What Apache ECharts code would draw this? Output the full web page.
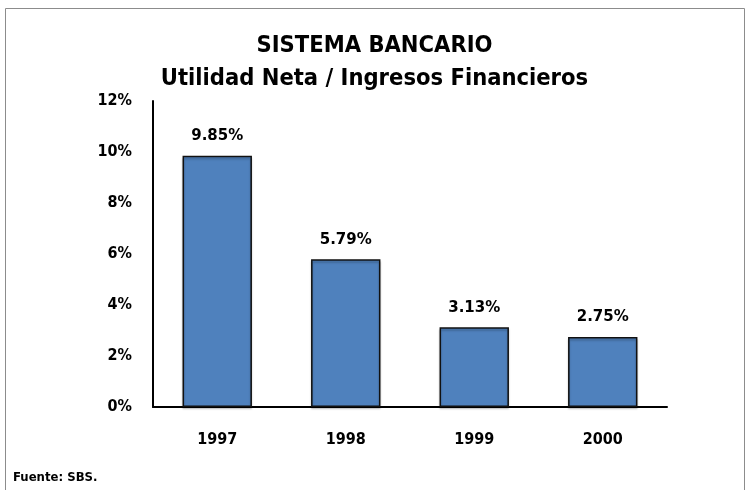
<!DOCTYPE html>
<html>
<head>
<meta charset="utf-8">
<script src="https://cdn.jsdelivr.net/npm/echarts@6/dist/echarts.min.js"></script>
<style>
  html, body { margin: 0; padding: 0; background: #fff; }
  #chart { width: 749px; height: 490px; }
</style>
</head>
<body>
<div id="chart"></div>
<script>
const years = ['1997', '1998', '1999', '2000']
const ratios = [9.85, 5.79, 3.13, 2.75]
const tickLabels = ['0%', '2%', '4%', '6%', '8%', '10%', '12%']

const font = '"Liberation Sans Narrow", "DejaVu Sans Condensed", "Open Sans", sans-serif'
const myChart = echarts.init(document.getElementById('chart'))

myChart.setOption({
  animation: false,
  title: {
    text: 'SISTEMA BANCARIO\nUtilidad Neta / Ingresos Financieros',
    left: 'center',
    top: 24,
    textStyle: {
      fontFamily: font,
      fontSize: 23.5,
      fontWeight: 'bold',
      color: '#000',
      lineHeight: 33
    }
  },
  graphic: [
    {
      type: 'rect',
      shape: { x: 5.5, y: 8.5, width: 739, height: 490 },
      style: { fill: 'none', stroke: '#8c8c8c', lineWidth: 1 },
      z: -1
    },
    {
      type: 'text',
      left: 13,
      top: 471,
      style: {
        text: 'Fuente: SBS.',
        font: 'bold 13px ' + font,
        fill: '#000'
      }
    }
  ],
  grid: {
    left: 153,
    right: 82,
    top: 101,
    bottom: 83,
    containLabel: false
  },
  xAxis: {
    type: 'category',
    data: years,
    axisLine: { lineStyle: { color: '#000', width: 2 } },
    axisTick: { show: false },
    axisLabel: {
      margin: 25,
      fontFamily: font,
      fontSize: 16,
      fontWeight: 'bold',
      color: '#000'
    }
  },
  yAxis: {
    type: 'value',
    min: 0,
    max: 12,
    interval: 2,
    axisLine: { show: true, lineStyle: { color: '#000', width: 2 } },
    axisTick: { show: false },
    splitLine: { show: false },
    axisLabel: {
      margin: 21,
      fontFamily: font,
      fontSize: 16,
      fontWeight: 'bold',
      color: '#000',
      formatter: (v) => tickLabels[v / 2]
    }
  },
  series: [
    {
      type: 'bar',
      data: ratios,
      barWidth: '54%',
      itemStyle: {
        color: '#4f81bd',
        borderColor: '#111',
        borderWidth: 1.5,
        shadowColor: 'rgba(0,0,0,0.25)',
        shadowOffsetY: 2,
        shadowBlur: 2
      },
      label: {
        show: true,
        position: 'top',
        distance: 12,
        fontFamily: '"DejaVu Sans", sans-serif',
        fontSize: 15,
        fontWeight: 'bold',
        color: '#000',
        formatter: (p) => p.value.toFixed(2) + '%'
      }
    }
  ]
})
</script>
</body>
</html>
